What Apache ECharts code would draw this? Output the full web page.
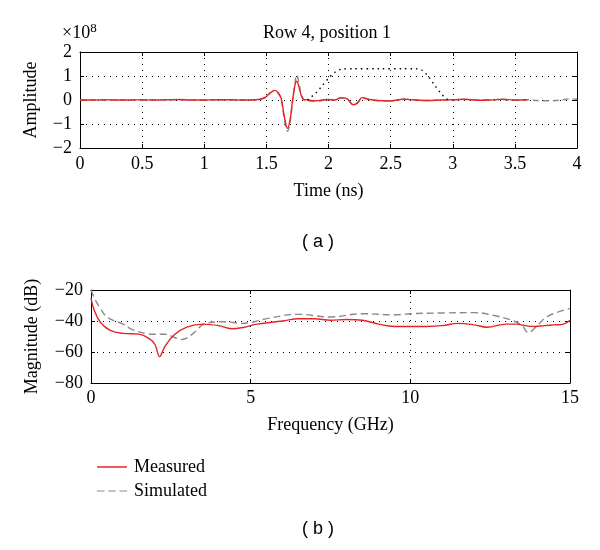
<!DOCTYPE html>
<html>
<head>
<meta charset="utf-8">
<script src="https://cdn.jsdelivr.net/npm/echarts@6/dist/echarts.min.js"></script>
<style>
  html, body { margin: 0; background: #fff; }
  #chart { width: 600px; height: 550px; }
</style>
</head>
<body>
<div id="chart"></div>
<script>
// (a) time domain, amplitude in units of 1e8
var timeMeas = [0,0.1,0.2,0.3,0.4,0.5,0.6,0.7,0.8,0.9,1.0,1.1,1.2,1.3,1.4,1.45,1.5,1.53,1.57,1.6,1.62,1.645,1.67,1.69,1.71,1.73,1.745,1.76,1.78,1.8,1.84,1.9,1.95,2.0,2.05,2.1,2.15,2.2,2.235,2.27,2.32,2.4,2.5,2.6,2.7,2.8,2.9,3.0,3.1,3.2,3.3,3.4,3.5,3.6];
var ampMeas  = [0,0,0.01,0,0,0.01,0,0.01,0.02,0,0,0.01,0.01,0,0.01,0.03,0.14,0.3,0.4,0.26,0.05,-0.7,-1.18,-0.85,-0.05,0.62,0.78,0.6,0.2,0.02,0,-0.03,0,0.02,0,0.1,0.05,-0.2,-0.12,0.1,0.03,-0.02,-0.04,0.03,0,-0.02,0,0.01,0.03,-0.01,0,0.03,0,0.01];

var timeSim = [0,0.2,0.4,0.6,0.8,1.0,1.2,1.4,1.45,1.5,1.53,1.57,1.6,1.62,1.645,1.67,1.69,1.71,1.73,1.745,1.76,1.78,1.8,1.84,1.9,1.95,2.0,2.05,2.1,2.15,2.2,2.235,2.27,2.32,2.4,2.5,2.6,2.7,2.8,2.9,3.0,3.1,3.2,3.3,3.4,3.5,3.6,3.7,3.8,3.9,3.95,4.0];
var ampSim  = [0,0,0.01,0,0.01,0,0.01,0.01,0.03,0.12,0.28,0.38,0.25,0.02,-0.8,-1.3,-0.95,-0.1,0.7,1.05,0.75,0.25,0.02,-0.04,-0.06,-0.02,0.01,0,0.08,0.04,-0.18,-0.1,0.1,0.03,-0.03,-0.03,0.04,0,-0.02,-0.01,0.01,0.02,0,0.01,0.02,0,0.01,-0.03,-0.03,0.02,0.05,0.03];

var timeWin = [1.83,1.9,1.95,2.0,2.05,2.1,2.2,2.4,2.6,2.7,2.75,2.8,2.85,2.9,2.95,2.98];
var ampWin  = [0,0.3,0.6,0.9,1.15,1.28,1.3,1.3,1.3,1.3,1.25,1.0,0.65,0.3,0.05,0];

// (b) frequency domain, dB
var freqMeas = [0,0.1,0.3,0.6,1.0,1.5,1.8,2.0,2.15,2.3,2.6,3.0,3.5,4.0,4.4,4.8,5.2,6.0,6.5,7.0,7.5,8.0,8.5,9.0,9.5,10,10.5,11,11.5,12,12.4,13,13.3,13.6,13.9,14.2,14.5,14.8,15];
var magMeas  = [-25,-33,-41,-46,-48,-48.5,-51,-55,-63,-57,-49,-44,-42,-43,-45,-44,-42,-40,-38.5,-38.5,-39.5,-39,-39.5,-42,-43.5,-43.5,-43.5,-43,-41.5,-42.5,-44,-42,-42,-43,-43.5,-43,-42.5,-42,-39.5];

var freqSim = [0,0.15,0.3,0.5,1.0,1.3,1.7,2.0,2.3,2.6,2.8,3.0,3.2,3.6,4.2,4.7,5.0,5.5,6.5,7.5,8.5,9.5,10,11,12,12.7,13.3,13.5,13.7,13.9,14.3,15];
var magSim  = [-20,-27,-32,-37.5,-42,-45.5,-48,-48.5,-48.5,-50.5,-52,-51,-48,-41.5,-40.5,-41.5,-41,-38.5,-35.7,-37.4,-35.3,-36,-35.3,-34.8,-34.6,-36.8,-40.5,-43,-47.5,-44.5,-37,-32];

var seriesNames = ['Measured', 'Simulated'];

function pairs(xs, ys) {
  return xs.map(function (x, i) { return [x, ys[i]]; });
}
function minusFmt(v) { return String(v).replace('-', '\u2212'); }

var serif = 'Liberation Serif';
var red = '#e52429', gray = '#8a8a8a';
var frame = { show: true, onZero: false, lineStyle: { color: '#000', width: 1 } };
var gridLine = { show: true, showMinLine: false, showMaxLine: false, lineStyle: { color: '#000', type: [1, 5], width: 1 } };
var tick = { show: true, inside: true, length: 4, lineStyle: { color: '#000' } };
var lbl = { color: '#000', fontFamily: serif, fontSize: 18, formatter: minusFmt };
var nameStyle = { color: '#000', fontFamily: serif, fontSize: 18 };

function mainAxis(grid, min, max, interval, name, gap, margin) {
  return { type: 'value', gridIndex: grid, min: min, max: max, interval: interval,
    axisLine: frame, axisTick: tick, splitLine: gridLine,
    axisLabel: Object.assign({ margin: margin }, lbl),
    name: name, nameLocation: 'middle', nameGap: gap, nameTextStyle: nameStyle };
}
function mirror(grid, pos, min, max, interval) {
  return { type: 'value', gridIndex: grid, position: pos, min: min, max: max, interval: interval,
    axisLine: frame, axisTick: tick, axisLabel: { show: false }, splitLine: { show: false } };
}

var option = {
  animation: false,
  grid: [
    { left: 80, top: 52, width: 497, height: 96 },
    { left: 91, top: 290, width: 479, height: 93 }
  ],
  xAxis: [
    mainAxis(0, 0, 4, 0.5, 'Time (ns)', 34, 7),
    mainAxis(1, 0, 15, 5, 'Frequency (GHz)', 33, 6),
    mirror(0, 'top', 0, 4, 0.5),
    mirror(1, 'top', 0, 15, 5)
  ],
  yAxis: [
    mainAxis(0, -2, 2, 1, 'Amplitude', 40, 8),
    mainAxis(1, -80, -20, 20, 'Magnitude (dB)', 50, 8),
    mirror(0, 'right', -2, 2, 1),
    mirror(1, 'right', -80, -20, 20)
  ],
  legend: {
    data: [
      { name: seriesNames[0], icon: 'rect' },
      { name: seriesNames[1], icon: 'path://M0,0h8v1h-8z M12,0h8v1h-8z M24,0h8v1h-8z' }
    ],
    orient: 'vertical', left: 92, top: 453,
    itemWidth: 30, itemHeight: 1.5, itemGap: 6,
    textStyle: { color: '#000', fontFamily: serif, fontSize: 18, padding: [0, 0, 0, 2] }
  },
  graphic: [
    { type: 'text', left: 263, top: 24, style: { text: 'Row 4, position 1', font: '18px "Liberation Serif"', fill: '#000' } },
    { type: 'text', left: 62, top: 22, style: { text: '\u00d710{s|8}', font: '18px "Liberation Serif"', fill: '#000',
        rich: { s: { fontSize: 13, fontFamily: serif, verticalAlign: 'top', padding: [0, 0, 9, 0] } } } },
    { type: 'text', left: 302, top: 233, style: { text: '( a )', font: '18px "Liberation Sans"', fill: '#000' } },
    { type: 'text', left: 302, top: 520, style: { text: '( b )', font: '18px "Liberation Sans"', fill: '#000' } }
  ],
  series: [
    { name: 'Simulated', type: 'line', xAxisIndex: 0, yAxisIndex: 0, data: pairs(timeSim, ampSim),
      showSymbol: false, symbol: 'none', smooth: 0.4, lineStyle: { color: gray, width: 1.4, type: [6, 4] }, itemStyle: { color: gray } },
    { name: 'Measured', type: 'line', xAxisIndex: 0, yAxisIndex: 0, data: pairs(timeMeas, ampMeas),
      showSymbol: false, symbol: 'none', smooth: 0.4, lineStyle: { color: red, width: 1.4 }, itemStyle: { color: red } },
    { name: 'Window', type: 'line', xAxisIndex: 0, yAxisIndex: 0, data: pairs(timeWin, ampWin),
      showSymbol: false, symbol: 'none', smooth: 0.3, lineStyle: { color: '#000', width: 1.4, type: [1.5, 4] } },
    { name: 'Simulated', type: 'line', xAxisIndex: 1, yAxisIndex: 1, data: pairs(freqSim, magSim),
      showSymbol: false, symbol: 'none', smooth: 0.4, lineStyle: { color: gray, width: 1.4, type: [7, 4] }, itemStyle: { color: gray } },
    { name: 'Measured', type: 'line', xAxisIndex: 1, yAxisIndex: 1, data: pairs(freqMeas, magMeas),
      showSymbol: false, symbol: 'none', smooth: 0.4, lineStyle: { color: red, width: 1.4 }, itemStyle: { color: red } }
  ]
};

var chart = echarts.init(document.getElementById('chart'));
chart.setOption(option);
</script>
</body>
</html>
